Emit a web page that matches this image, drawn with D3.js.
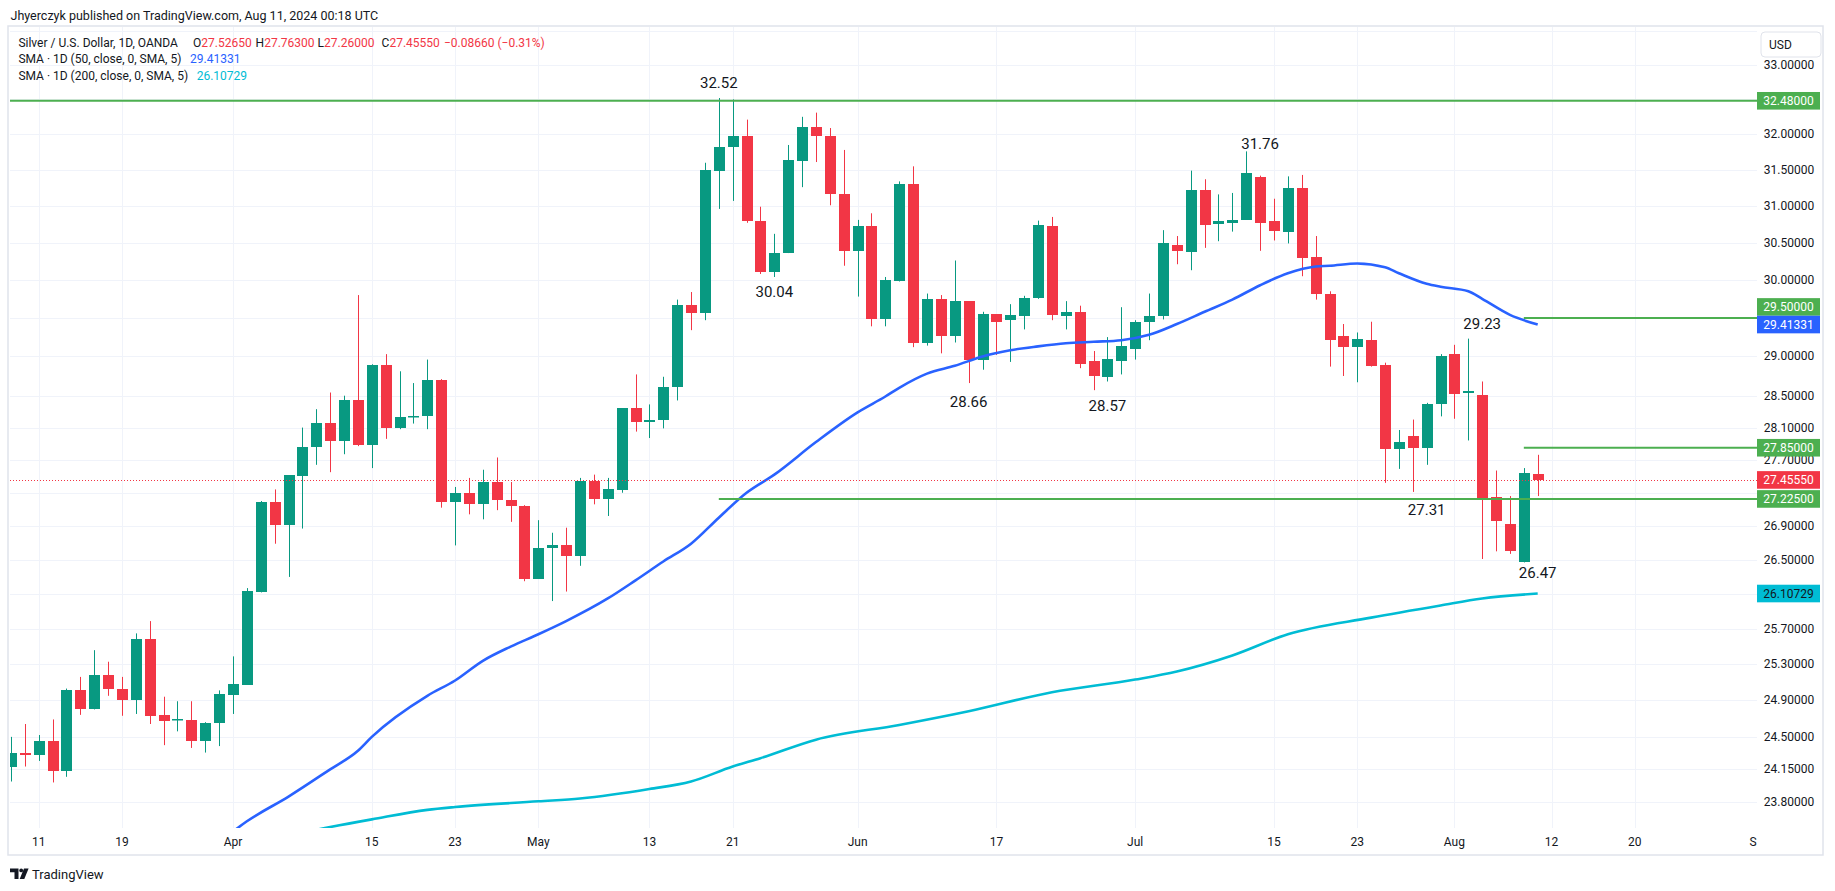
<!DOCTYPE html>
<html><head><meta charset="utf-8">
<script src="https://cdn.jsdelivr.net/npm/d3@7"></script>
<style>
html,body{margin:0;padding:0;background:#ffffff;}
svg{display:block;font-family:Roboto,"Liberation Sans",Arial,sans-serif;}
</style>
</head><body>
<svg id="c" width="1835" height="891"></svg>
<script>
// ---------------- DATA ----------------
const dates = [
"2024-03-07","2024-03-08","2024-03-11","2024-03-12","2024-03-13","2024-03-14","2024-03-15","2024-03-18","2024-03-19","2024-03-20","2024-03-21","2024-03-22","2024-03-25","2024-03-26","2024-03-27","2024-03-28",
"2024-04-01","2024-04-02","2024-04-03","2024-04-04","2024-04-05","2024-04-08","2024-04-09","2024-04-10","2024-04-11","2024-04-12","2024-04-15","2024-04-16","2024-04-17","2024-04-18","2024-04-19","2024-04-22","2024-04-23","2024-04-24","2024-04-25","2024-04-26","2024-04-29","2024-04-30",
"2024-05-01","2024-05-02","2024-05-03","2024-05-06","2024-05-07","2024-05-08","2024-05-09","2024-05-10","2024-05-13","2024-05-14","2024-05-15","2024-05-16","2024-05-17","2024-05-20","2024-05-21","2024-05-22","2024-05-23","2024-05-24","2024-05-27","2024-05-28","2024-05-29","2024-05-30","2024-05-31",
"2024-06-03","2024-06-04","2024-06-05","2024-06-06","2024-06-07","2024-06-10","2024-06-11","2024-06-12","2024-06-13","2024-06-14","2024-06-17","2024-06-18","2024-06-19","2024-06-20","2024-06-21","2024-06-24","2024-06-25","2024-06-26","2024-06-27","2024-06-28",
"2024-07-01","2024-07-02","2024-07-03","2024-07-04","2024-07-05","2024-07-08","2024-07-09","2024-07-10","2024-07-11","2024-07-12","2024-07-15","2024-07-16","2024-07-17","2024-07-18","2024-07-19","2024-07-22","2024-07-23","2024-07-24","2024-07-25","2024-07-26","2024-07-29","2024-07-30","2024-07-31",
"2024-08-01","2024-08-02","2024-08-05","2024-08-06","2024-08-07","2024-08-08","2024-08-09"];

const open = [
24.17,24.33,24.30,24.46,24.13,25.01,24.80,25.18,25.03,24.90,25.59,24.74,24.68,24.68,24.45,24.65,
24.96,25.07,26.13,27.19,26.91,27.50,27.86,28.16,27.93,28.44,27.89,28.89,28.10,28.23,28.24,28.70,27.19,27.30,27.16,27.43,27.21,27.14,
26.28,26.64,26.68,26.54,27.44,27.23,27.33,28.34,28.17,28.19,28.61,29.67,29.57,31.49,31.82,31.98,30.80,30.11,30.36,31.63,32.10,31.98,31.17,
30.39,30.73,29.48,29.99,31.31,29.17,29.75,29.27,29.72,28.96,29.55,29.47,29.52,29.76,30.73,29.52,29.58,28.94,28.74,28.94,
29.09,29.45,29.53,30.47,30.37,31.22,30.76,30.77,30.81,31.40,30.79,30.65,31.25,30.31,29.82,29.27,29.12,29.21,28.89,27.84,27.99,27.85,28.39,
29.03,28.53,28.51,27.25,26.93,26.47,27.5265];

const high = [
24.50,24.64,24.52,24.69,25.03,25.16,25.46,25.33,25.16,25.65,25.79,24.94,24.89,24.89,24.66,25.01,
25.39,26.17,27.20,27.34,27.51,28.10,28.33,28.54,28.50,29.80,28.90,29.03,28.81,28.66,28.96,28.71,27.37,27.48,27.58,27.73,27.43,27.15,
26.97,26.82,26.88,27.48,27.52,27.48,28.34,28.77,28.39,28.74,29.74,29.84,31.60,32.52,32.50,32.21,30.99,30.62,31.85,32.25,32.31,32.09,31.78,
30.81,30.90,30.04,31.34,31.55,29.82,29.80,30.26,29.72,29.58,29.55,29.68,29.79,30.80,30.85,29.72,29.66,29.07,29.25,29.64,
29.47,29.82,30.67,30.59,31.49,31.37,31.16,31.18,31.76,31.42,31.10,31.41,31.43,30.59,29.85,29.42,29.31,29.45,28.92,28.07,28.20,28.41,29.03,
29.15,29.23,28.68,27.57,27.26,27.60,27.763];

const low = [
24.02,24.18,24.24,24.01,24.07,24.74,24.80,24.95,24.73,24.75,24.64,24.41,24.56,24.38,24.33,24.40,
24.75,25.07,26.12,26.69,26.30,26.87,27.64,27.55,27.77,27.87,27.60,27.96,28.08,28.15,28.08,27.12,26.67,27.04,26.98,27.09,26.95,26.25,
26.28,26.02,26.13,26.43,27.16,27.02,27.30,28.05,27.97,28.09,28.44,29.34,29.47,30.96,31.07,30.77,30.08,30.04,30.36,31.26,31.61,31.01,30.19,
29.78,29.39,29.39,29.98,29.12,29.14,29.04,29.18,28.66,28.83,29.02,28.93,29.35,29.75,29.47,29.35,28.85,28.57,28.68,28.77,
28.96,29.21,29.48,30.21,30.13,30.43,30.52,30.65,30.81,30.39,30.53,30.49,30.05,29.74,28.87,28.75,28.67,28.87,27.42,27.59,27.31,27.64,28.24,
28.21,27.94,26.51,26.60,26.57,26.47,27.26];

const close = [
24.33,24.30,24.46,24.13,25.01,24.80,25.18,25.03,24.90,25.59,24.73,24.67,24.69,24.45,24.65,24.97,
25.08,26.14,27.19,26.91,27.51,27.86,28.16,27.93,28.44,27.89,28.89,28.10,28.23,28.25,28.70,27.19,27.30,27.16,27.43,27.21,27.14,26.28,
26.64,26.68,26.54,27.44,27.23,27.34,28.34,28.17,28.19,28.61,29.67,29.57,31.50,31.82,31.98,30.79,30.11,30.36,31.64,32.10,31.97,31.16,30.39,
30.73,29.48,30.00,31.31,29.17,29.75,29.27,29.72,28.96,29.55,29.45,29.54,29.76,30.74,29.54,29.58,28.90,28.75,28.97,29.14,
29.45,29.52,30.50,30.39,31.22,30.74,30.80,30.81,31.46,30.77,30.66,31.25,30.30,29.82,29.21,29.12,29.23,28.88,27.84,27.92,27.85,28.39,29.00,
28.52,28.56,27.23,26.96,26.60,27.54,27.4555];

// SMA 50
const sma50Dates = ["2024-03-28","2024-04-02","2024-04-05","2024-04-10","2024-04-12","2024-04-15","2024-04-19","2024-04-23","2024-04-25","2024-04-29","2024-05-01","2024-05-03","2024-05-08","2024-05-10","2024-05-14","2024-05-16","2024-05-20","2024-05-22","2024-05-24","2024-05-29","2024-06-03","2024-06-05","2024-06-06","2024-06-10","2024-06-12","2024-06-14","2024-06-18","2024-06-20","2024-06-24","2024-06-26","2024-06-28","2024-07-02","2024-07-04","2024-07-08","2024-07-10","2024-07-12","2024-07-16","2024-07-18","2024-07-19","2024-07-23","2024-07-25","2024-07-26","2024-07-30","2024-07-31","2024-08-02","2024-08-05","2024-08-07","2024-08-09"];
const sma50Values = [23.38,23.60,23.86,24.15,24.35,24.50,24.95,25.12,25.34,25.50,25.64,25.79,26.05,26.26,26.48,26.69,27.00,27.30,27.52,27.92,28.29,28.49,28.60,28.78,28.88,29.00,29.08,29.13,29.17,29.19,29.21,29.28,29.42,29.58,29.74,29.93,30.09,30.18,30.19,30.22,30.17,30.09,29.95,29.91,29.85,29.75,29.54,29.41331];

// SMA 200
const sma200Dates = ["2024-04-04","2024-04-10","2024-04-15","2024-04-19","2024-04-23","2024-05-01","2024-05-06","2024-05-13","2024-05-16","2024-05-21","2024-05-23","2024-05-29","2024-06-06","2024-06-13","2024-06-21","2024-07-01","2024-07-04","2024-07-10","2024-07-16","2024-07-24","2024-07-31","2024-08-05","2024-08-09"];
const sma200Values = [23.42,23.54,23.62,23.72,23.75,23.81,23.84,23.94,24.02,24.18,24.27,24.47,24.63,24.78,24.99,25.13,25.22,25.40,25.64,25.83,25.97,26.05,26.10729];

// Price scale ticks
const priceTicks = [33.5,33.0,32.5,32.0,31.5,31.0,30.5,30.0,29.5,29.0,28.5,28.1,27.7,27.3,26.9,26.5,26.1,25.7,25.3,24.9,24.5,24.15,23.8];
const priceLabelTicks = [33.0,32.5,32.0,31.5,31.0,30.5,30.0,29.5,29.0,28.5,28.1,27.7,27.3,26.9,26.5,26.1,25.7,25.3,24.9,24.5,24.15,23.8];

// Time axis ticks
const timeTickDates  = ["2024-03-11","2024-03-19","2024-04-01","2024-04-15","2024-04-23","2024-05-01","2024-05-13","2024-05-21","2024-06-03","2024-06-17","2024-07-01","2024-07-15","2024-07-23","2024-08-01","2024-08-12","2024-08-20","2024-09-02"];
const timeTickLabels = ["11","19","Apr","15","23","May","13","21","Jun","17","Jul","15","23","Aug","12","20","S"];

// Horizontal drawn levels (price, start date)
const levelPrices = [32.48, 29.50, 27.85, 27.225];
const levelStarts = ["2024-03-07","2024-08-08","2024-08-08","2024-05-20"];

// Text annotations (label, date, price at text centre)
const annoLabels = ["32.52","30.04","28.66","28.57","31.76","29.23","27.31","26.47"];
const annoDates  = ["2024-05-20","2024-05-24","2024-06-13","2024-06-27","2024-07-12","2024-08-05","2024-07-30","2024-08-09"];
const annoPrices = [32.74,29.84,28.42,28.37,31.86,29.42,27.09,26.34];

const lastPrice = 27.4555, lastSma50 = 29.41331, lastSma200 = 26.10729;

// ---------------- STYLE / LAYOUT ----------------
const UP = "#089981", DOWN = "#F23645", TXT = "#131722", GRID = "#f0f3fa";
const LEVEL = "#4CAF50", BLUE = "#2962FF", CYAN = "#00BCD4";
const plot = {l: 10, r: 1757, t: 27, b: 828};

const svg = d3.select("#c");

// trading-day position (extends the calendar over weekdays beyond the data)
function posOf(ds) {
  const k = dates.indexOf(ds);
  if (k >= 0) return k;
  const last = new Date(dates[dates.length - 1] + "T00:00:00Z");
  const tgt = new Date(ds + "T00:00:00Z");
  let n = dates.length - 1, d = new Date(last);
  while (d < tgt) { d.setUTCDate(d.getUTCDate() + 1); const w = d.getUTCDay(); if (w !== 0 && w !== 6) n++; }
  return n;
}

const x = d3.scaleLinear().domain([0, dates.length - 1]).range([10.94, 1537.7]);
const y = d3.scaleLog().domain([23.53, 33.56]).range([plot.b, plot.t]);

// frame
svg.append("rect").attr("x", 8).attr("y", 26).attr("width", 1815).attr("height", 829)
  .attr("fill", "#fff").attr("stroke", "#e0e3eb").attr("stroke-width", 1.5);

svg.append("clipPath").attr("id", "pc").append("rect")
  .attr("x", plot.l).attr("y", plot.t).attr("width", plot.r - plot.l).attr("height", plot.b - plot.t);

const gGrid = svg.append("g").attr("clip-path", "url(#pc)");
gGrid.selectAll("line.h").data(priceTicks).join("line")
  .attr("x1", plot.l).attr("x2", plot.r)
  .attr("y1", d => Math.round(y(d)) + 0.5).attr("y2", d => Math.round(y(d)) + 0.5)
  .attr("stroke", GRID).attr("stroke-width", 1);
gGrid.selectAll("line.v").data(timeTickDates).join("line")
  .attr("x1", d => Math.round(x(posOf(d))) + 0.5).attr("x2", d => Math.round(x(posOf(d))) + 0.5)
  .attr("y1", plot.t).attr("y2", plot.b)
  .attr("stroke", GRID).attr("stroke-width", 1);

// header
svg.append("text").attr("x", 10.5).attr("y", 15).attr("dominant-baseline", "central")
  .attr("font-size", 12.5).attr("fill", TXT)
  .text("Jhyerczyk published on TradingView.com, Aug 11, 2024 00:18 UTC");

const g = svg.append("g").attr("clip-path", "url(#pc)");

// candles
const bars = dates.map((d, i) => ({i, o: open[i], h: high[i], l: low[i], c: close[i]}));
g.selectAll("line.wick").data(bars).join("line")
  .attr("x1", d => Math.round(x(d.i)) + 0.5).attr("x2", d => Math.round(x(d.i)) + 0.5)
  .attr("y1", d => y(d.h)).attr("y2", d => y(d.l))
  .attr("stroke", d => d.c >= d.o ? UP : DOWN).attr("stroke-width", 1);
g.selectAll("rect.body").data(bars).join("rect")
  .attr("x", d => Math.round(x(d.i)) - 5).attr("width", 11)
  .attr("y", d => Math.round(y(Math.max(d.o, d.c))))
  .attr("height", d => Math.max(1.5, Math.round(y(Math.min(d.o, d.c))) - Math.round(y(Math.max(d.o, d.c)))))
  .attr("fill", d => d.c >= d.o ? UP : DOWN);

// SMA lines
const line = d3.line().x(d => x(d[0])).y(d => y(d[1])).curve(d3.curveMonotoneX);
g.append("path").datum(sma200Dates.map((d, i) => [posOf(d), sma200Values[i]]))
  .attr("d", line).attr("fill", "none").attr("stroke", CYAN).attr("stroke-width", 2.6);
g.append("path").datum(sma50Dates.map((d, i) => [posOf(d), sma50Values[i]]))
  .attr("d", line).attr("fill", "none").attr("stroke", BLUE).attr("stroke-width", 2.6);

// last price dotted line
g.append("line").attr("x1", plot.l).attr("x2", plot.r)
  .attr("y1", Math.round(y(lastPrice)) + 0.5).attr("y2", Math.round(y(lastPrice)) + 0.5)
  .attr("stroke", DOWN).attr("stroke-width", 1).attr("stroke-dasharray", "1,2");

// horizontal levels
g.selectAll("line.lvl").data(levelPrices).join("line")
  .attr("x1", (d, i) => i === 0 ? plot.l : x(posOf(levelStarts[i]))).attr("x2", plot.r)
  .attr("y1", d => y(d)).attr("y2", d => y(d))
  .attr("stroke", LEVEL).attr("stroke-width", 2);

// annotations
g.selectAll("text.anno").data(annoLabels).join("text")
  .attr("x", (d, i) => x(posOf(annoDates[i]))).attr("y", (d, i) => y(annoPrices[i]))
  .attr("text-anchor", "middle").attr("dominant-baseline", "central")
  .attr("font-size", 15).attr("fill", TXT).text(d => d);

// legend
const leg = svg.append("g").attr("font-size", 12).attr("fill", TXT);
const l1 = leg.append("text").attr("y", 42.7).attr("dominant-baseline", "central");
l1.append("tspan").attr("x", 18.4).text("Silver / U.S. Dollar, 1D, OANDA");
[["O", "27.52650", 193], ["H", "27.76300", 255.6], ["L", "27.26000", 317.6], ["C", "27.45550", 381.6]].forEach(p => {
  l1.append("tspan").attr("x", p[2]).text(p[0]);
  l1.append("tspan").attr("fill", DOWN).text(p[1]);
});
l1.append("tspan").attr("x", 444).attr("fill", DOWN).text("\u22120.08660 (\u22120.31%)");
const l2 = leg.append("text").attr("y", 59.3).attr("dominant-baseline", "central");
l2.append("tspan").attr("x", 18.4).text("SMA \u00b7 1D (50, close, 0, SMA, 5)");
l2.append("tspan").attr("x", 190).attr("fill", BLUE).text(lastSma50.toFixed(5));
const l3 = leg.append("text").attr("y", 76).attr("dominant-baseline", "central");
l3.append("tspan").attr("x", 18.4).text("SMA \u00b7 1D (200, close, 0, SMA, 5)");
l3.append("tspan").attr("x", 196.7).attr("fill", CYAN).text(lastSma200.toFixed(5));

// coloured price labels (with simple collision handling)
const tags = [
  {v: levelPrices[0], bg: LEVEL, fg: "#fff", fixed: false},
  {v: levelPrices[1], bg: LEVEL, fg: "#fff", fixed: false},
  {v: lastSma50, bg: BLUE, fg: "#fff", fixed: true},
  {v: levelPrices[2], bg: LEVEL, fg: "#fff", fixed: false},
  {v: lastPrice, bg: DOWN, fg: "#fff", fixed: true},
  {v: levelPrices[3], bg: LEVEL, fg: "#fff", fixed: false},
  {v: lastSma200, bg: CYAN, fg: TXT, fixed: true}
];
const TH = 17.6;
tags.forEach(t => t.y = y(t.v));
tags.filter(t => !t.fixed).forEach(t => {
  tags.filter(f => f.fixed).forEach(f => {
    if (Math.abs(t.y - f.y) < TH) t.y = t.y < f.y ? f.y - TH : f.y + TH;
  });
});

// price axis labels (those hidden behind a coloured tag are not drawn)
const axX = 1789;
const visibleTicks = priceLabelTicks.filter(v => tags.every(t => Math.abs(y(v) - t.y) >= 12));
svg.append("g").selectAll("text").data(visibleTicks).join("text")
  .attr("x", axX).attr("y", d => y(d)).attr("text-anchor", "middle").attr("dominant-baseline", "central")
  .attr("font-size", 12).attr("fill", TXT).text(d => d.toFixed(5));

const tg = svg.append("g").selectAll("g").data(tags).join("g");
tg.append("rect").attr("x", 1757).attr("width", 63).attr("y", d => d.y - TH / 2).attr("height", TH)
  .attr("fill", d => d.bg);
tg.append("text").attr("x", 1788.5).attr("y", d => d.y + 0.5).attr("text-anchor", "middle")
  .attr("dominant-baseline", "central").attr("font-size", 12).attr("fill", d => d.fg)
  .text(d => d.v.toFixed(5));

// USD button
svg.append("rect").attr("x", 1761).attr("y", 32).attr("width", 60).attr("height", 25).attr("rx", 4)
  .attr("fill", "#fff").attr("stroke", "#e0e3eb");
svg.append("text").attr("x", 1769).attr("y", 44.5).attr("dominant-baseline", "central")
  .attr("font-size", 12).attr("fill", TXT).text("USD");

// time axis labels
svg.append("g").selectAll("text").data(timeTickLabels).join("text")
  .attr("x", (d, i) => Math.min(x(posOf(timeTickDates[i])), plot.r - 4))
  .attr("y", 842).attr("text-anchor", "middle").attr("dominant-baseline", "central")
  .attr("font-size", 12).attr("fill", TXT).text(d => d);

// TradingView logo
const logo = svg.append("g").attr("fill", TXT);
logo.append("path").attr("d", "M10,868.5 h8.5 v10.5 h-4 v-6.8 h-4.5 z");
logo.append("circle").attr("cx", 21.2).attr("cy", 870.4).attr("r", 1.9);
logo.append("path").attr("d", "M24,868.5 h4.6 l-4.3,10.5 h-4.6 z");
svg.append("text").attr("x", 32).attr("y", 874).attr("dominant-baseline", "central")
  .attr("font-size", 13).attr("fill", TXT).text("TradingView");
</script>
</body></html>
